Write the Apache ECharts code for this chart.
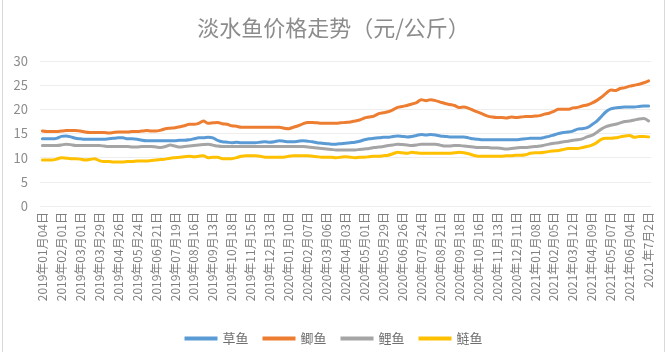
<!DOCTYPE html>
<html>
<head>
<meta charset="utf-8">
<script src="https://cdn.jsdelivr.net/npm/echarts@6/dist/echarts.min.js"></script>
<style>
  body{margin:0;background:#fff;}
  #main{width:667px;height:353px;position:relative;}
  #frame{position:absolute;left:2px;top:0;width:661px;height:352px;border-left:1px solid #d9d9d9;border-right:1px solid #d9d9d9;pointer-events:none;}
</style>
</head>
<body>
<div id="main"></div>
<div id="frame"></div>
<script>
// weekly report dates, two holiday weeks have no data
var startDate=Date.UTC(2019,0,4);
var skipDates=['2019-10-04','2021-02-12'];
var weekCount=131;

var caoyu=[13.9,13.9,13.9,14.0, 14.4,14.5,14.3,14.0, 13.9,13.8,13.8,13.8, 13.8,13.8,13.9,14.0, 14.1,14.1,13.9,13.9,
  13.8,13.6,13.5,13.5, 13.5,13.5,13.5,13.5,13.5,13.6,13.6,13.7, 13.9,14.1,14.1,14.2, 14.1,13.6,13.3,13.2,
  13.1,13.2,13.1,13.1, 13.1,13.1,13.2,13.3, 13.2,13.3,13.5,13.4, 13.3,13.3,13.4,13.5, 13.4,13.3,13.1,13.0,
  12.9,12.8,12.8,12.9, 13.0,13.1,13.2,13.4, 13.7,13.9,14.0,14.1, 14.2,14.2,14.4,14.5, 14.4,14.3,14.4,14.6,
  14.8,14.7,14.8,14.7, 14.5,14.4,14.3,14.3, 14.3,14.3,14.1,13.9, 13.8,13.7,13.7,13.7, 13.7,13.7,13.7,13.7,
  13.7,13.8,13.9,14.0, 14.0,14.0,14.2,14.4, 14.7,15.0,15.2,15.3, 15.5,15.9,16.0,16.2, 16.8,17.5,18.5,19.5,
  20.1,20.3,20.4,20.5, 20.5,20.5,20.6,20.7,20.7];
var jiyu=[15.5,15.4,15.4,15.4, 15.5,15.6,15.6,15.6, 15.5,15.3, 15.2,15.2,15.2,15.2,15.1, 15.2,15.3,15.3,15.3,15.4,
  15.4,15.5,15.6,15.5,15.5,15.7, 16.0,16.1,16.2,16.4, 16.6,16.9,16.9,17.1, 17.6,17.1,17.2,17.3, 17.0,16.9,16.6,16.5,
  16.3,16.3,16.3,16.3,16.3,16.3,16.3, 16.3,16.3,16.1,16.0,16.3, 16.6,17.0,17.3,17.3, 17.2,17.1,17.1,17.1,17.1,17.2,
  17.3,17.4,17.6,17.8, 18.2,18.4,18.6,19.1, 19.3,19.5,19.9,20.4, 20.6,20.8,21.1,21.4, 22.0,21.8,22.0,21.8,
  21.5,21.2,21.0,20.8, 20.4,20.5,20.2,19.8, 19.4,19.0,18.6,18.4, 18.3,18.3,18.2,18.4, 18.3,18.4,18.5,18.5,
  18.6,18.7,19.0,19.2, 19.6,20.0,20.0,20.0, 20.3,20.4,20.7,20.9, 21.3,21.8,22.5,23.3, 24.0,23.9,24.3,24.5,
  24.8,25.0,25.2,25.5,25.9];
var liyu=[12.5,12.5,12.5,12.5, 12.6,12.8,12.7,12.5, 12.5,12.5,12.5,12.5, 12.5,12.4,12.3,12.3, 12.3,12.3,12.3,12.2,
  12.2,12.3,12.3,12.3, 12.2,12.1,12.3,12.6, 12.4,12.2,12.3,12.4, 12.5,12.6,12.7,12.8, 12.6,12.4,12.3,12.3,
  12.3,12.3,12.3,12.3, 12.3,12.3,12.3,12.3, 12.3,12.3,12.3,12.3, 12.3,12.3,12.3,12.3, 12.2,12.1,12.0,11.9,
  11.8,11.7,11.6,11.6, 11.6,11.6,11.6,11.7, 11.8,11.9,12.1,12.2, 12.3,12.5,12.6,12.8, 12.7,12.6,12.5,12.6,
  12.8,12.8,12.8,12.8, 12.6,12.4,12.4,12.5, 12.5,12.4,12.3,12.2, 12.1,12.1,12.1,12.0, 12.0,11.9,11.8,11.9,
  12.0,12.1,12.1,12.2, 12.3,12.4,12.6,12.8, 13.0,13.1,13.3,13.4, 13.6,13.7,13.9,14.3, 14.6,15.2,15.9,16.4,
  16.7,16.9,17.2,17.5, 17.6,17.8,18.0,18.1,17.6];
var lianyu=[9.5,9.5,9.5,9.7, 10.0,9.9,9.8,9.8, 9.7,9.5,9.6,9.8, 9.4,9.2,9.2,9.1, 9.1,9.1,9.2,9.2,
  9.3,9.3,9.3,9.4, 9.5,9.6,9.7,9.9, 10.0,10.1,10.2,10.3, 10.2,10.3,10.4,10.0, 10.1,10.1,9.8,9.8,
  9.8,10.0,10.3,10.4, 10.4,10.4,10.3,10.1, 10.1,10.1,10.1,10.1, 10.3,10.4,10.4,10.4, 10.4,10.3,10.2,10.1,
  10.1,10.1,10.0,10.1, 10.2,10.1,10.0,10.1, 10.1,10.2,10.3,10.3, 10.4,10.5,10.8,11.1, 11.0,10.9,11.1,11.0,
  10.9,10.9,10.9,10.9, 10.9,10.9,10.9,11.0, 11.1,11.0,10.8,10.5, 10.3,10.3,10.3,10.3, 10.3,10.3,10.4,10.4,
  10.5,10.5,10.6,10.9, 11.0,11.0,11.1,11.3, 11.4,11.5,11.7,11.9, 11.9,11.9,12.1,12.3, 12.6,13.1,13.8,14.0,
  14.0,14.1,14.3,14.5, 14.6,14.2,14.4,14.4,14.3];

function pad(n){return n<10?'0'+n:''+n;}
var xData=[];
for(var w=0;w<weekCount;w++){
  var d=new Date(startDate+w*7*86400000);
  var y=d.getUTCFullYear(),m=d.getUTCMonth()+1,day=d.getUTCDate();
  if(skipDates.indexOf(y+'-'+pad(m)+'-'+pad(day))>=0) continue;
  xData.push(y+'年'+pad(m)+'月'+pad(day)+'日');
}
xData[xData.length-1]='2021年7月2日';

var myChart=echarts.init(document.getElementById('main'));
var font='"Noto Sans CJK SC", "Noto Sans", sans-serif';
function line(name,color,data){
  return {name:name,type:'line',data:data,smooth:0.3,symbol:'none',
    lineStyle:{width:3,color:color,cap:'round',join:'round'},itemStyle:{color:color}};
}
var option={
  animation:false,
  textStyle:{fontFamily:font},
  title:{
    text:'淡水鱼价格走势（元/公斤）',
    left:'center',top:12,
    textStyle:{fontSize:22,fontWeight:'normal',color:'#8c8c8c',fontFamily:font}
  },
  legend:{
    bottom:3,left:'center',
    icon:'rect',itemWidth:33,itemHeight:4,itemGap:14,
    textStyle:{fontSize:13,color:'#6f6f6f',fontFamily:font},
    data:['草鱼','鲫鱼','鲤鱼','鲢鱼']
  },
  grid:{left:40,right:16,top:61,bottom:147},
  xAxis:{
    type:'category',
    data:xData,
    axisLine:{show:false},
    axisTick:{show:false},
    axisLabel:{interval:3,rotate:90,fontSize:12,color:'#7f7f7f',margin:6,fontFamily:font}
  },
  yAxis:{
    type:'value',min:0,max:30,interval:5,
    axisLine:{show:false},axisTick:{show:false},
    axisLabel:{fontSize:13,color:'#8c8c8c',margin:12,fontFamily:font},
    splitLine:{lineStyle:{color:'#eeeeee',width:1}}
  },
  series:[
    line('草鱼','#5B9BD5',caoyu),
    line('鲫鱼','#ED7D31',jiyu),
    line('鲤鱼','#A5A5A5',liyu),
    line('鲢鱼','#FFC000',lianyu)
  ]
};
myChart.setOption(option);
</script>
</body>
</html>
